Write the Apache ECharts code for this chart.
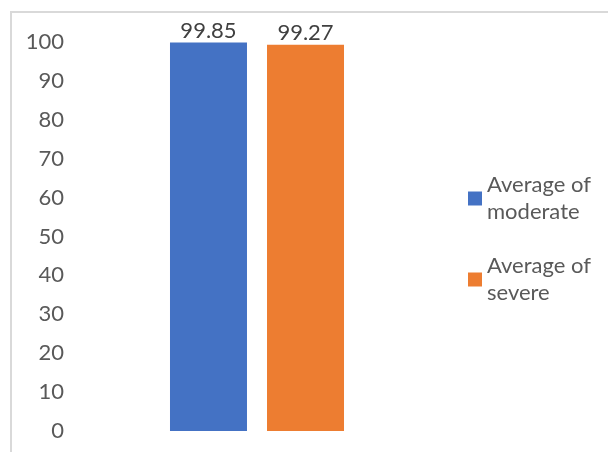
<!DOCTYPE html>
<html>
<head>
<meta charset="utf-8">
<script src="https://cdn.jsdelivr.net/npm/echarts@6/dist/echarts.min.js"></script>
<style>
  html, body { margin: 0; padding: 0; background: #fff; }
  #wrap { position: relative; width: 608px; height: 452px; }
  #frame { position: absolute; left: 10px; top: 11px; right: 0; bottom: 0;
           border-top: 2px solid #d9d9d9; border-left: 2px solid #d9d9d9; }
  #main { position: absolute; left: 0; top: 0; width: 608px; height: 452px; }
</style>
</head>
<body>
<div id="wrap">
  <div id="frame"></div>
  <div id="main"></div>
</div>
<script>
// data
var categories = [''];
var seriesNames = ['Average of moderate', 'Average of severe'];
var moderate = [99.85];
var severe = [99.27];
var yTicks = [0, 10, 20, 30, 40, 50, 60, 70, 80, 90, 100];

var font = 'Lato';
var chart = echarts.init(document.getElementById('main'));

var option = {
  animation: false,
  color: ['#4472C4', '#ED7D31'],
  grid: { left: 70, right: 164, top: 42, bottom: 21 },
  legend: {
    orient: 'vertical',
    left: 463,
    top: 153,
    padding: 5,
    itemWidth: 14,
    itemHeight: 14,
    itemGap: 0,
    icon: 'rect',
    data: seriesNames,
    formatter: function (name) {
      return name.replace('Average of ', 'Average of\n');
    },
    textStyle: {
      fontFamily: font,
      fontSize: 22,
      color: '#595959',
      lineHeight: 27,
      padding: [27, 0, 0, 0]
    }
  },
  xAxis: {
    type: 'category',
    data: categories,
    axisLine: { show: false },
    axisTick: { show: false },
    axisLabel: { show: false }
  },
  yAxis: {
    type: 'value',
    min: yTicks[0],
    max: yTicks[yTicks.length - 1],
    interval: 10,
    splitLine: { show: false },
    axisLine: { show: false },
    axisTick: { show: false },
    axisLabel: {
      margin: 6,
      fontFamily: font,
      fontSize: 22,
      color: '#595959'
    }
  },
  series: [
    {
      name: seriesNames[0],
      type: 'bar',
      data: moderate,
      barWidth: 77,
      barGap: '26%',
      label: {
        show: true, position: 'top', distance: 1,
        fontFamily: font, fontSize: 22, color: '#404040'
      }
    },
    {
      name: seriesNames[1],
      type: 'bar',
      data: severe,
      barWidth: 77,
      label: {
        show: true, position: 'top', distance: 1,
        fontFamily: font, fontSize: 22, color: '#404040'
      }
    }
  ]
};

chart.setOption(option);
</script>
</body>
</html>
